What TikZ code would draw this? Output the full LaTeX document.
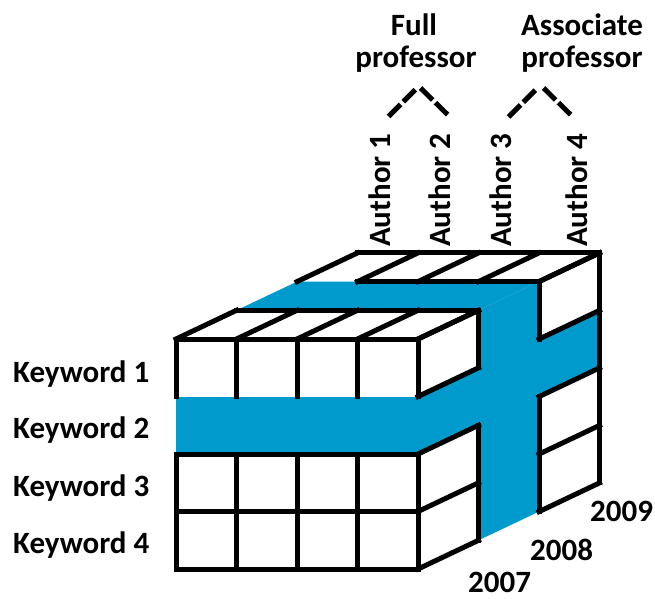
\documentclass[tikz,border=0pt]{standalone}
\usepackage{fontspec}
\setmainfont{Carlito}
\definecolor{cubeblue}{RGB}{0,155,204}
\begin{document}
\begin{tikzpicture}[x=1pt,y=-1pt,
  lbl/.style={font=\fontsize{31}{32}\selectfont\bfseries, inner sep=0pt},
  grid/.style={line width=5pt, line cap=rect, line join=miter, black},
  slice/.style={fill=cubeblue, draw=none},
  branch/.style={line width=5pt, dash pattern=on 17pt off 4pt, line cap=butt}]
\useasboundingbox (0,0) rectangle (655,598);

% ---- cube ----
\begin{scope}[shift={(176,339)}, x={(60.5pt,0pt)}, y={(0pt,-57.5pt)}, z={(60.5pt,28.7pt)}]
  % blue slices
  \fill[slice] (0,1,0) -- (4,1,0) -- (4,2,0) -- (0,2,0) -- cycle;
  \fill[slice] (4,1,0) -- (4,1,3) -- (4,2,3) -- (4,2,0) -- cycle;
  \fill[slice] (4,0,1) -- (4,0,2) -- (4,4,2) -- (4,4,1) -- cycle;
  \fill[slice] (0,0,1) -- (4,0,1) -- (4,0,2) -- (0,0,2) -- cycle;
  % front face
  \draw[grid] (0,0,0) -- (4,0,0);
  \foreach \i in {0,...,4} {
    \draw[grid] (\i,0,0) -- (\i,1,0);
    \draw[grid] (\i,2,0) -- (\i,4,0);
  }
  \foreach \j in {2,3,4} \draw[grid] (0,\j,0) -- (4,\j,0);
  % right face
  \foreach \k in {0,...,3} {
    \draw[grid] (4,0,\k) -- (4,1,\k);
    \draw[grid] (4,2,\k) -- (4,4,\k);
  }
  \draw[grid] (4,1,3) -- (4,2,3);
  \foreach \j in {0,...,4} {
    \draw[grid] (4,\j,0) -- (4,\j,1);
    \draw[grid] (4,\j,2) -- (4,\j,3);
  }
  % top face
  \foreach \i in {0,...,4} {
    \draw[grid] (\i,0,0) -- (\i,0,1);
    \draw[grid] (\i,0,2) -- (\i,0,3);
  }
  \draw[grid] (0,0,1) -- (4,0,1);
  \draw[grid] (1,0,2) -- (4,0,2);
  \draw[grid] (0,0,3) -- (4,0,3);
\end{scope}

% ---- keyword labels ----
\node[lbl, anchor=base west] (kw1) at (13,382) {Keyword 1};
\node[lbl, anchor=base west] (kw2) at (13,438) {Keyword 2};
\node[lbl, anchor=base west] (kw3) at (13,496) {Keyword 3};
\node[lbl, anchor=base west] (kw4) at (13,553) {Keyword 4};

% ---- year labels ----
\node[lbl, anchor=base west] (y2007) at (468,592.5) {2007};
\node[lbl, anchor=base west] (y2008) at (530,560) {2008};
\node[lbl, anchor=base west] (y2009) at (590,521) {2009};

% ---- author labels ----
\node[lbl, rotate=90, anchor=base west] (au1) at (390,247) {Author 1};
\node[lbl, rotate=90, anchor=base west] (au2) at (450,247) {Author 2};
\node[lbl, rotate=90, anchor=base west] (au3) at (511.5,247) {Author 3};
\node[lbl, rotate=90, anchor=base west] (au4) at (587,247) {Author 4};

% ---- rank labels ----
\node[lbl, anchor=base] (fullA) at (414,35) {Full};
\node[lbl, anchor=base] (fullB) at (416,67) {professor};
\node[lbl, anchor=base] (assocA) at (582,35) {Associate};
\node[lbl, anchor=base] (assocB) at (582,67) {professor};

% ---- dashed branches ----
\coordinate (fl) at (388.5,116.5);
\coordinate (fa1) at (416.5,88.5);
\coordinate (fa2) at (420.5,88);
\coordinate (fr) at (448,115);
\coordinate (al) at (508.5,117);
\coordinate (aa1) at (536.5,89);
\coordinate (aa2) at (543.5,88);
\coordinate (ar) at (571,115);
\draw[branch] (fl) -- (fa1);
\draw[branch] (fa2) -- (fr);
\draw[branch] (al) -- (aa1);
\draw[branch] (aa2) -- (ar);
\end{tikzpicture}
\end{document}
